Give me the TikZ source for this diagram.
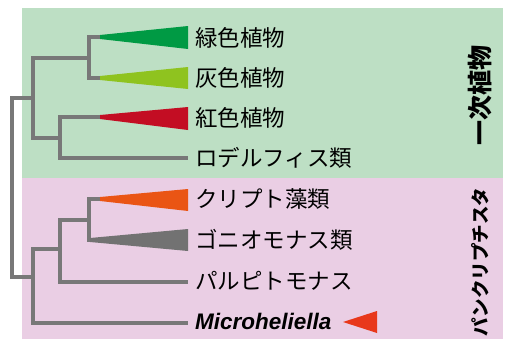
\documentclass[tikz,border=0pt]{standalone}
\usepackage{fontspec}
\setmainfont{Liberation Sans}
\newfontfamily\jp{Noto Sans CJK JP}
\definecolor{greenbg}{RGB}{189,223,196}
\definecolor{pinkbg}{RGB}{234,206,228}
\definecolor{treegray}{RGB}{120,120,120}
\definecolor{dkgreen}{RGB}{0,154,68}
\definecolor{ltgreen}{RGB}{143,195,31}
\definecolor{crimson}{RGB}{195,13,35}
\definecolor{orangetri}{RGB}{234,85,20}
\definecolor{graytri}{RGB}{114,114,114}
\definecolor{redtri}{RGB}{232,56,27}
\begin{document}
\begin{tikzpicture}[x=1pt,y=-1pt,
  branch/.style={draw=treegray,line width=3.8pt,line join=miter},
  lbl/.style={anchor=west,inner sep=0pt,text height=19.8pt,text depth=2.7pt,
    font=\jp\fontsize{22.5}{24}\selectfont},
  vlbl/.style={rotate=90,inner sep=0pt}]
\useasboundingbox (0,0) rectangle (507,341);
\fill[greenbg] (22,8) rectangle (503,178);
\fill[pinkbg] (22,178) rectangle (503,339);
% labels
\node[lbl] (l1) at (195,38) {緑色植物};
\node[lbl] (l2) at (195,78) {灰色植物};
\node[lbl] (l3) at (195,118) {紅色植物};
\node[lbl] (l4) at (195,158) {ロデルフィス類};
\node[lbl] (l5) at (195,199) {クリプト藻類};
\node[lbl] (l6) at (195,240) {ゴニオモナス類};
\node[lbl] (l7) at (195,281) {パルピトモナス};
\node[lbl,font=\fontsize{22.5}{24}\selectfont\bfseries\itshape] (l8) at (195,321) {Microheliella};
\node[vlbl,font=\jp\bfseries\fontsize{25}{25}\selectfont] (g) at (480,95) {一次植物};
\node[vlbl,font=\jp\bfseries\fontsize{18.5}{18.5}\selectfont] (p) at (480,262) {パンクリプチスタ};
% tree coordinates
\coordinate (R) at (12,187);
\coordinate (A) at (33,98);
\coordinate (A1) at (89,58);
\coordinate (A2) at (60,138);
\coordinate (B) at (33,277);
\coordinate (B1) at (60,249);
\coordinate (B2) at (89,220);
\coordinate (t1) at (100,37);
\coordinate (t2) at (100,78);
\coordinate (t3) at (100,117);
\coordinate (t5) at (100,199);
\coordinate (t6) at (90,240);
% branches
\draw[branch] (A) -| (R) |- (B);
\draw[branch] (A1) -| (A) |- (A2);
\draw[branch] (t1) -| (A1) |- (t2);
\draw[branch] (t3) -| (A2) |- ([xshift=-7pt]l4.west);
\draw[branch] (B1) -| (B) |- ([xshift=-7pt]l8.west |- 0,323);
\draw[branch] (B2) -| (B1) |- ([xshift=-7pt]l7.west |- 0,282);
\draw[branch] (t5) -| (B2) |- (t6);
% collapsed clades
\fill[dkgreen] (t1) ++(0,-2) -- (188,26) -- (188,49) -- ([yshift=-2pt]t1) -- cycle;
\fill[ltgreen] (t2) ++(0,-2) -- (188,67) -- (188,89) -- ([yshift=-2pt]t2) -- cycle;
\fill[crimson] (t3) ++(0,-2) -- (188,107) -- (188,130) -- ([yshift=-2pt]t3) -- cycle;
\fill[orangetri] (t5) ++(0,-2) -- (188,189) -- (188,211) -- ([yshift=-2pt]t5) -- cycle;
\fill[graytri] (t6) ++(0,-2) -- (188,229) -- (188,251) -- ([yshift=-2pt]t6) -- cycle;
\fill[redtri] (343,322) -- (377,311) -- (377,333) -- cycle;
\end{tikzpicture}
\end{document}
